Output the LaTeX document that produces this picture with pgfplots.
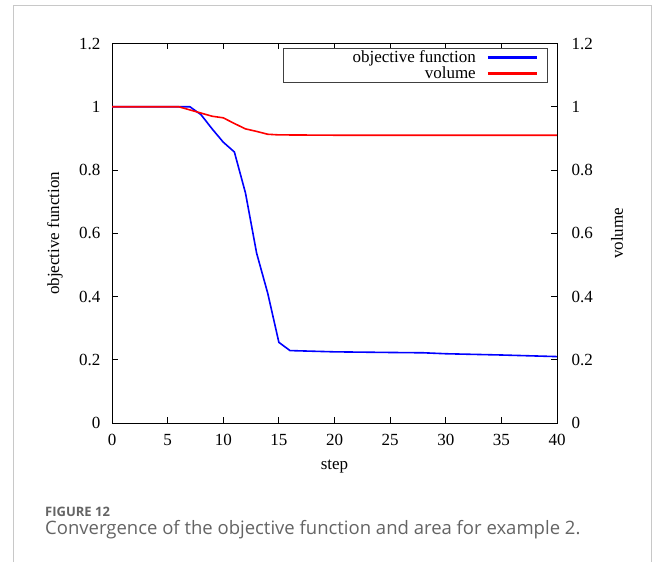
\documentclass[border=0pt]{standalone}
\usepackage{fontspec}
\setmainfont{Liberation Serif}
\newfontfamily\capfont{Open Sans}
\usepackage{pgfplots}
\pgfplotsset{compat=1.18}
\definecolor{capgray}{RGB}{100,100,100}
\definecolor{framegray}{RGB}{200,200,200}
\newcommand{\plotfont}{\fontsize{17}{20}\selectfont}
\newcommand{\legline}[1]{\hspace{12pt}\textcolor{#1}{\rule[0.22em]{49pt}{2.4pt}}}
\begin{document}
\begin{tikzpicture}
\path[use as bounding box] (0pt,0pt) rectangle (656pt,562pt);
\draw[framegray, line width=1pt] (13pt,0pt) -- (13pt,556pt) -- (651pt,556pt) -- (651pt,0pt);
\begin{axis}[
  at={(112pt,139pt)}, anchor=south west,
  scale only axis, width=445pt, height=379.5pt,
  xmin=0, xmax=40, ymin=0, ymax=1.2,
  xtick={0,5,10,15,20,25,30,35,40},
  ytick={0,0.2,0.4,0.6,0.8,1,1.2},
  xtick pos=both, ytick pos=left, tick align=inside,
  major tick length=6pt,
  axis line style={line width=0.8pt},
  every tick/.style={black, line width=0.8pt},
  /pgf/number format/assume math mode=true,
  tick label style={font=\plotfont},
  xticklabel style={yshift=-8pt},
  yticklabel style={xshift=-8pt},
  xlabel={step},
  ylabel={objective function},
  every axis x label/.style={at={(axis description cs:0.5,-0.116)}, anchor=center, font=\plotfont},
  every axis y label/.style={at={(axis description cs:-0.128,0.5)}, rotate=90, anchor=center, font=\plotfont},
  legend plot pos=none,
  legend cell align=right,
  legend style={at={(axis description cs:0.9775,0.987)}, anchor=north east,
    draw=black!75, font=\plotfont, row sep=2.5pt, inner xsep=10pt, inner ysep=2pt,
    nodes={inner ysep=0pt, inner xsep=0pt}},
]
\addplot[blue, line width=1.6pt] coordinates {
(0,1.0) (1,1.0) (2,1.0) (3,1.0) (4,1.0) (5,1.0) (6,1.0) (7,1.0)
(8,0.975) (9,0.93) (10,0.888) (11,0.857) (12,0.727) (13,0.537) (14,0.41)
(15,0.255) (16,0.229) (17,0.228) (18,0.227) (20,0.225) (25,0.223) (28,0.222)
(30,0.219) (35,0.215) (40,0.21)};
\addlegendentry{\makebox[183pt][r]{objective function}\legline{blue}}
\addplot[red, line width=1.6pt] coordinates {
(0,1.0) (1,1.0) (2,1.0) (3,1.0) (4,1.0) (5,1.0) (6,1.0)
(7,0.99) (8,0.98) (9,0.970) (10,0.965) (11,0.947) (12,0.930) (13,0.922)
(14,0.913) (15,0.911) (20,0.910) (30,0.910) (40,0.910)};
\addlegendentry{\makebox[183pt][r]{volume}\legline{red}}
\end{axis}
\begin{axis}[
  at={(112pt,139pt)}, anchor=south west,
  scale only axis, width=445pt, height=379.5pt,
  xmin=0, xmax=40, ymin=0, ymax=1.2,
  axis x line=none, axis y line*=right,
  ytick={0,0.2,0.4,0.6,0.8,1,1.2},
  ytick pos=right, tick align=inside,
  major tick length=6pt,
  axis line style={line width=0.8pt, -},
  every tick/.style={black, line width=0.8pt},
  /pgf/number format/assume math mode=true,
  tick label style={font=\plotfont},
  yticklabel style={xshift=11pt},
  ylabel={volume},
  every axis y label/.style={at={(axis description cs:1.135,0.5)}, rotate=90, anchor=center, font=\plotfont},
]
\end{axis}
\node[anchor=base west, inner sep=0pt, text=capgray, font=\capfont\bfseries\fontsize{13}{16}\selectfont] at (45pt,45pt) {FIGURE 12};
\node[anchor=base west, inner sep=0pt, text=capgray, font=\capfont\fontsize{18.5}{21}\selectfont] at (45pt,27pt) {Convergence of the objective function and area for example 2.};
\end{tikzpicture}
\end{document}
